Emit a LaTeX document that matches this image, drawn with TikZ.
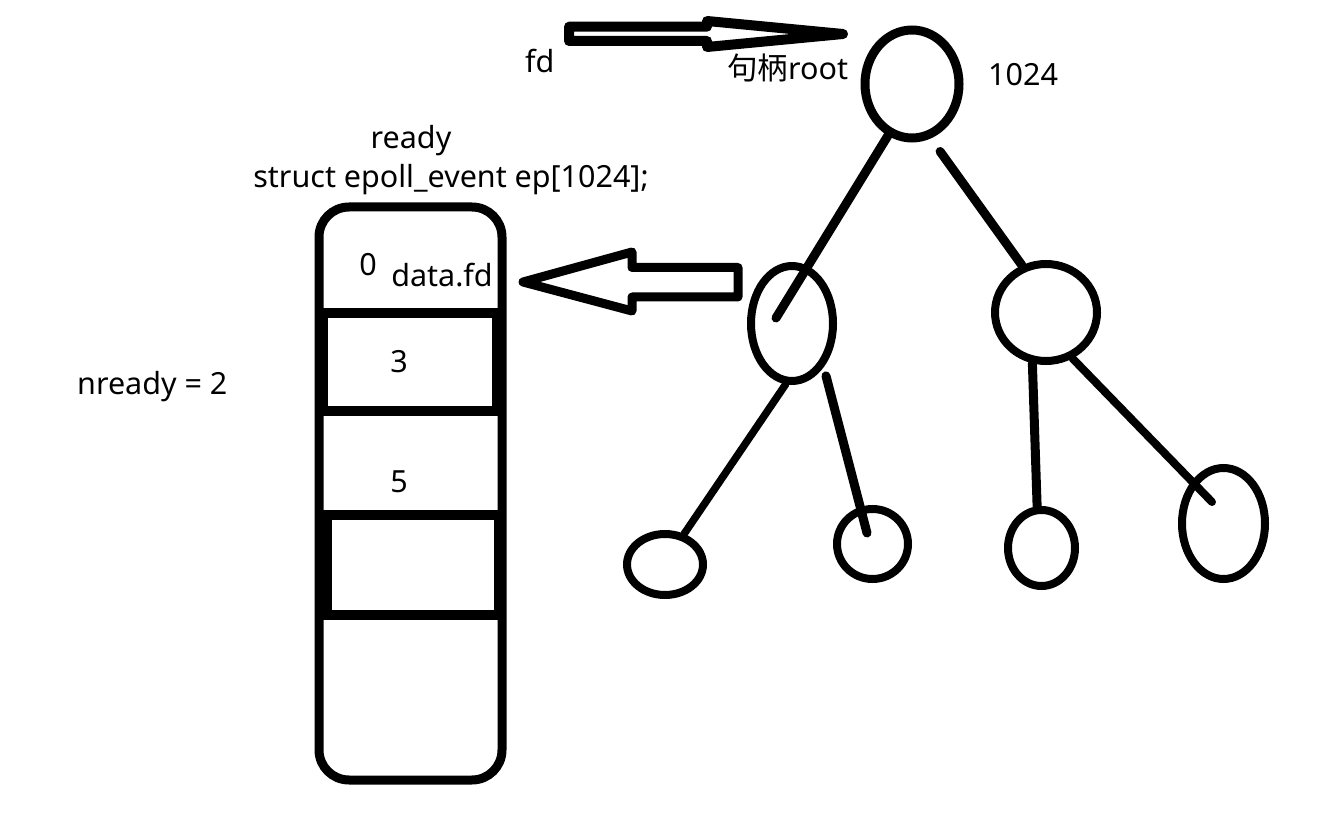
\documentclass[tikz,border=0pt]{standalone}
\usepackage{fontspec}
\setmainfont{Noto Sans}
\newfontfamily\cjk{Noto Sans CJK SC}
\usetikzlibrary{shapes.geometric}

\begin{document}
\begin{tikzpicture}[x=1pt,y=-1pt,
  treenode/.style={draw, ellipse, line width=8pt, inner sep=0pt},
  edge/.style={line width=9pt, line cap=round},
  lbl/.style={inner sep=0pt, font=\fontsize{30.5}{36}\selectfont},
  hollow/.style={draw, line width=9pt, line join=round},
  slot/.style={line width=10pt}]
\useasboundingbox (0,0) rectangle (1318,818);

% ---- labels at the top ----
\node[lbl, anchor=base west] (fd) at (525,73) {fd};
\node[lbl, anchor=base west] (handle) at (727,80) {{\cjk 句柄}root};
\node[lbl, anchor=base west] (size) at (988,86) {1024};

% ---- red-black tree of registered fds ----
\node[treenode, line width=9pt, minimum width=94pt, minimum height=108pt] (root) at (912,84) {};
\node[treenode, minimum width=82pt, minimum height=115pt] (nL) at (792,323.5) {};
\node[treenode, minimum width=102pt, minimum height=97pt] (nR) at (1046,312.5) {};
\node[treenode, minimum width=76pt, minimum height=61pt] (nLL) at (665,564.5) {};
\node[treenode, minimum width=71pt, minimum height=70pt] (nLR) at (872.5,544) {};
\node[treenode, minimum width=67pt, minimum height=76pt] (nRL) at (1041.5,548) {};
\node[treenode, minimum width=83pt, minimum height=111pt] (nRR) at (1223.5,523.5) {};

\coordinate (eL) at (776,318);
\coordinate (eLR) at (867,533);
\coordinate (eRR) at (1212,502);

\draw[edge] (root.245) -- (eL);
\draw[edge, shorten <=16pt] (root.289) -- (nR.117);
\draw[edge, line width=7.5pt] (nL.264) -- (nLL.58);
\draw[edge, shorten <=9pt] (nL.306) -- (eLR);
\draw[edge] (nR.255) -- (nRL.96);
\draw[edge, line width=8pt] (nR.300) -- (eRR);

% ---- hollow arrows ----
\draw[hollow, line width=10pt] (569,26.7) -- (707,26.7) -- (707,21) -- (843,34)
  -- (707,47) -- (707,41) -- (569,41) -- cycle;
\draw[hollow] (738,267.5) -- (632,267.5) -- (632,252) -- (523,282)
  -- (632,311) -- (632,297) -- (738,297) -- cycle;

% ---- ready list array ----
\node[lbl, anchor=base] (ready) at (411,149) {ready};
\node[lbl, anchor=base] (decl) at (451,188) {struct epoll\_event ep[1024];};

\node[draw, line width=9pt, rounded corners=30pt, minimum width=183pt,
      minimum height=573pt, inner sep=0pt] (arr) at (410.5,493.5) {};
\draw[slot] (319,313) -- (502,313);
\draw[slot] (319,411) -- (502,411);
\draw[slot] (319,515) -- (502,515);
\draw[slot] (319,615) -- (502,615);
\fill (319,318) rectangle (328,406);
\fill (492,318) rectangle (502,406);
\fill (319,520) rectangle (332,610);
\fill (494,520) rectangle (502,610);

\node[lbl, anchor=base] (i0) at (368,276) {0};
\node[lbl, anchor=base] (dfd) at (442,287) {data.fd};
\node[lbl, anchor=base] (i3) at (399,373) {3};
\node[lbl, anchor=base] (i5) at (399,492) {5};

\node[lbl, anchor=base west] (nready) at (77,395) {nready = 2};
\end{tikzpicture}
\end{document}
